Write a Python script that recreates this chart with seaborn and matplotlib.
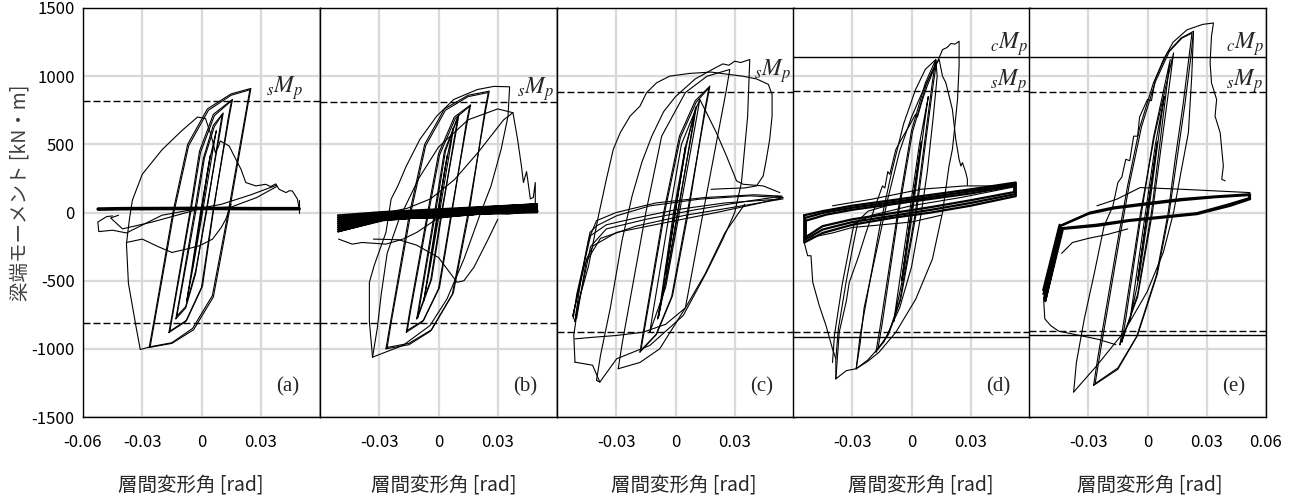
import matplotlib
matplotlib.use('Agg')
import matplotlib.pyplot as plt
import pandas as pd
import seaborn as sns

sns.set_theme(style='white')
plt.rcParams['font.family'] = ['Noto Sans CJK JP', 'DejaVu Sans']
plt.rcParams['mathtext.fontset'] = 'stix'

# ---------------- data (x in 1e-3 rad, y in kN*m) ----------------
PANEL_LABELS = ['(a)', '(b)', '(c)', '(d)', '(e)']
X_TICKS = [-0.06, -0.03, 0, 0.03, 0.06]
X_TICKLABELS = [['-0.06', '-0.03', '0', '0.03', ''],
                ['', '-0.03', '0', '0.03', ''],
                ['', '-0.03', '0', '0.03', ''],
                ['', '-0.03', '0', '0.03', ''],
                ['', '-0.03', '0', '0.03', '0.06']]
Y_TICKS = [-1500, -1000, -500, 0, 500, 1000, 1500]
Y_TICKLABELS = ['-1500', '-1000', '-500', '0', '500', '1000', '1500']
SMP_POS = [817, 810, 882, 890, 883]
SMP_NEG = [-812, -812, -880, -880, -871]
CMP_POS = [None, None, None, 1143, 1143]
CMP_NEG = [None, None, None, -910, -902]
X_LABEL = '層間変形角 [rad]'
Y_LABEL = '梁端モーメント [kN・m]'

A_THIN = [
    [(-4.5, -400), (4.5, 420), (3, 300), (-4.5, -400)],
    [(-7.5, -650), (-6.5, -560), (-0.5, 0), (4, 380), (7.5, 600), (6.5, 520), (0.5, 0), (-4, -380), (-7.5, -650)],
    [(-13, -780), (-11, -620), (-3.6, 0), (1, 400), (6, 640), (11, 730), (9.5, 600), (2.2, 0), (-3, -450), (-8, -700), (-13, -780)],
    [(-12.5, -760), (-10.5, -600), (-3, 0), (1.5, 400), (6.5, 630), (10.5, 720), (9, 590), (2.5, 0), (-3, -430), (-8, -690), (-12.5, -760)],
    [(-16.5, -880), (-14.5, -720), (-5.9, 0), (-1, 450), (6, 720), (15.7, 830), (14, 700), (5.7, 0), (0, -550), (-8, -800), (-16.5, -880)],
    [(-16, -870), (-14, -700), (-5.5, 0), (-0.5, 440), (6.5, 710), (15.2, 820), (13.5, 690), (5.9, 0), (0.5, -540), (-7.5, -790), (-16, -870)],
    [(-26.5, -990), (-24, -790), (-14.5, 0), (-7, 500), (3, 760), (15, 870), (25, 910), (23.5, 790), (14, 0), (6, -620), (-4, -860), (-15, -960), (-26.5, -990)],
    [(-26, -985), (-23.5, -780), (-14, 0), (-6.5, 490), (3.5, 750), (15, 860), (24.5, 900), (23, 780), (13.5, 0), (5.5, -610), (-4.5, -850), (-15, -955), (-26, -985)],
    [(-26, -985), (-31, -1005), (-33, -850), (-37, -520), (-38, -230), (-36.5, -50), (-35, 90), (-30, 280), (-20, 460), (-10, 600), (-2, 700), (2, 690), (5, 560), (7, 440), (8.5, 480), (9.5, 525), (14, 488), (17.4, 390), (20, 317), (22.4, 220), (27.5, 195), (32.5, 207), (35, 190), (37.6, 210), (39.3, 170), (42.8, 146), (44.5, 160), (46, 158), (48.6, 98), (49.4, 30)],
    [(-38, -220), (-30, -195), (-22, -250), (-15, -293), (-8, -270), (-1, -244), (5.6, -195), (10, -110), (12.3, -49), (15, 60)],
    [(38, 200), (25, 130), (10, 60), (-5, 20), (-20, -20), (-38, -150), (-45, -130), (-52, -140), (-52.5, -70), (-48, -30), (-45, -25)],
    [(38, 190), (28, 110), (15, 40), (0, 30), (-25, -70), (-40, -120), (-46, -40), (-42, -20)],
    [(49.5, 0), (49.5, 95)],
]
A_BOLD = [
    [(-52.3, 25), (-40, 28), (0, 30), (30, 28), (49.4, 28)],
]

B_THIN = [
    [(-4.5, -400), (4.5, 420), (3, 300), (-4.5, -400)],
    [(-7.5, -650), (-6.5, -560), (-0.5, 0), (4, 380), (7.5, 620), (6.5, 520), (0.5, 0), (-4, -380), (-7.5, -650)],
    [(-11, -780), (-9.5, -650), (-2, 0), (3, 450), (10.3, 720), (9, 600), (1.5, 0), (-4, -500), (-11, -780)],
    [(-10.5, -770), (-9, -640), (-1.5, 0), (3.5, 450), (10, 710), (8.5, 590), (1.8, 0), (-3.5, -490), (-10.5, -770)],
    [(-16.3, -878), (-14.5, -720), (-5.5, 0), (0, 430), (8, 700), (16.3, 790), (14.5, 660), (6.5, 0), (0, -560), (-8, -800), (-16.3, -878)],
    [(-15.8, -865), (-14, -710), (-5, 0), (0.5, 420), (8.5, 690), (15.8, 780), (14, 650), (6.8, 0), (0.5, -550), (-7.5, -790), (-15.8, -865)],
    [(-26.6, -1000), (-24.5, -820), (-14.6, 0), (-7, 500), (3, 760), (15, 860), (25.7, 890), (24, 760), (15, 0), (7, -600), (-4, -870), (-15, -970), (-26.6, -1000)],
    [(-26, -990), (-24, -810), (-14, 0), (-6.5, 490), (3.5, 750), (15, 850), (25.2, 880), (23.5, 750), (15.5, 0), (7.5, -590), (-3.5, -860), (-15, -960), (-26, -990)],
    [(-33.4, -1061), (-35, -800), (-35, -512), (-32.6, -390), (-26.6, -146), (-24, 98), (-20.6, 195), (-16.3, 341), (-9.4, 537), (-0.9, 707), (7.7, 829), (19.7, 902), (28, 925), (36, 922), (35.2, 707), (31.7, 463), (26.6, 195), (21.4, 0), (12.9, -341), (4.3, -634), (-4.3, -829), (-18, -975), (-33.4, -1061)],
    [(-33.4, -1061), (-31, -850), (-29, -600), (-26, -300), (-20, -50), (-10, 250), (0, 480), (15, 680), (30, 760), (37.7, 732), (40, 540), (42, 340), (43, 220), (44.6, 300), (46.5, 100), (48, 110), (49, 220), (49, 60)],
    [(37.7, 732), (33, 680), (20, 440), (8, 240), (-4, 100), (-16, 30), (-30, -10), (-45, -30)],
    [(-50.6, -195), (-43.7, -232), (-38.6, -220), (-26.6, -232), (-18, -195), (-11, -146), (-1, -49), (12.9, 0), (35, -12), (50.6, 10)],
    [(-33, -195), (-20, -200), (-11, -240), (0, -330), (9.4, -512), (12.9, -500), (18, -400), (25, -200), (30, -50)],
]
B_BOLD = [
    [(-51, -20), (-28, 5), (0, 25), (50, 62), (0, 18), (-28, -2), (-51, -35), (-28, -5), (0, 12), (50, 55),
     (0, 5), (-28, -12), (-51, -50), (-28, -15), (0, -2), (50, 48), (0, -9), (-28, -22), (-51, -65),
     (-28, -25), (0, -16), (50, 40), (0, -22), (-28, -32), (-51, -80), (-28, -35), (0, -30), (50, 32),
     (0, -37), (-28, -42), (-51, -95), (-28, -45), (0, -35), (50, 24), (0, -30), (-28, -50), (-51, -110),
     (-28, -48), (0, -25), (50, 16), (0, -28), (-28, -55), (-51, -125), (-28, -50), (0, -20), (50, 8),
     (0, -25), (-28, -58), (-51, -140), (-28, -52), (0, -15), (50, 0)],
]

C_THIN = [
    [(-5, -450), (5, 480), (3.5, 330), (-5, -450)],
    [(-9, -780), (-7.5, -650), (-1, 0), (5, 480), (10.6, 780), (9, 640), (1, 0), (-4, -420), (-9, -780)],
    [(-8.5, -760), (-7, -630), (-0.5, 0), (5.5, 490), (10.2, 770), (8.6, 630), (1.3, 0), (-3.6, -410), (-8.5, -760)],
    [(-13, -878), (-11.5, -740), (-3, 0), (3, 500), (12.3, 829), (10.5, 680), (2, 0), (-5, -550), (-13, -878)],
    [(-18, -1024), (-16, -850), (-6, 0), (2, 560), (10, 820), (17.4, 927), (15.5, 780), (6, 0), (-2, -620), (-10, -900), (-18, -1024)],
    [(-17.5, -1010), (-15.5, -840), (-5.5, 0), (2.5, 550), (10.5, 810), (17, 915), (15, 770), (6.5, 0), (-1.5, -610), (-9.5, -890), (-17.5, -1010)],
    [(-29, -1146), (-27, -960), (-15, 0), (-7, 560), (5, 880), (16, 1000), (27.5, 1049), (25.5, 880), (14, 0), (5, -700), (-8, -1000), (-18, -1100), (-29, -1146)],
    [(-40, -1232), (-38, -1050), (-33, -700), (-27, -200), (-22, 120), (-17, 370), (-12, 560), (-6, 740), (0, 850), (10, 980), (20, 1060), (24, 1090), (27, 1080), (30, 1110), (33, 1100), (37.6, 1122), (36.5, 700), (33.4, 220), (30, 0), (24, -195), (15.7, -439), (3.9, -756), (-13, -975), (-29.8, -1073), (-38.3, -1244), (-40, -1232)],
    [(-50.9, -1098), (-51.5, -900), (-49, -650), (-44, -390), (-39, -24), (-35, 244), (-31.5, 463), (-28, 585), (-23, 707), (-18, 780), (-14.7, 878), (-9.6, 951), (-3, 1000), (7, 1020), (18, 1030), (27.5, 1012), (34, 1000), (41, 980), (47, 940), (48.9, 866), (48.9, 707), (47.7, 537), (46, 390), (44.4, 268), (41, 195), (35, 180), (25, 175), (18, 170)],
    [(12.3, 829), (15.7, 732), (20.7, 585), (25.8, 415), (30.9, 232), (34.3, 207), (44.4, 195), (52.8, 146)],
    [(-51.8, -780), (-50, -600), (-46.7, -390), (-43.3, -146), (-40, -98), (-29.8, -24), (-12.9, 49), (12.3, 98), (37.6, 122), (54.5, 110), (40, 60), (20.7, 0), (-4.6, -73), (-29.8, -146), (-41.7, -244), (-45, -341), (-50.1, -780)],
    [(-51, -800), (-48, -500), (-44, -200), (-40, -60), (-30, 0), (-10, 70), (15, 110), (40, 130), (54, 120), (35, 80), (10, 20), (-15, -50), (-35, -120), (-43, -250), (-48, -600), (-51, -800)],
    [(-52, -760), (-47, -420), (-43, -170), (-35, -90), (-20, -40), (0, 20), (25, 70), (54.5, 100), (30, 40), (5, -20), (-20, -100), (-38, -190), (-46, -380), (-52, -760)],
    [(-51, -927), (-41.6, -915), (-29.8, -902), (-16.4, -878), (-5, -820), (5, -700), (15, -450), (25, -150), (35, 60)],
    [(-50.9, -1098), (-46, -1110), (-42, -1120), (-38.3, -1244)],
]
C_BOLD = []

D_THIN = [
    [(-5, -500), (5, 520), (3.5, 380), (-5, -500)],
    [(-9, -800), (-7.5, -650), (-1, 0), (4, 500), (8.5, 850), (7, 700), (0.5, 0), (-4, -450), (-9, -800)],
    [(-18, -1024), (-16, -850), (-7, 0), (0, 600), (7, 950), (12.3, 1122), (10.5, 950), (2, 0), (-6, -650), (-12, -900), (-18, -1024)],
    [(-17, -1000), (-15, -830), (-6.5, 0), (0.5, 590), (7.5, 940), (12.8, 1110), (11, 940), (2.5, 0), (-5.5, -640), (-11.5, -890), (-17, -1000)],
    [(-28, -1146), (-26, -900), (-21, -500), (-16, -100), (-10, 300), (-4, 650), (2, 900), (7, 1050), (12.3, 1122), (13, 1000), (11, 700), (8, 300), (5, 0), (0, -400), (-6, -700), (-14, -950), (-22, -1080), (-28, -1146)],
    [(-28, -1146), (-26, -960), (-24, -700), (-18, -300), (-12, 100), (-6, 450), (0, 700), (6, 900), (12, 1080), (14, 1122), (15.7, 1000), (17.4, 951), (20.7, 756), (22.4, 537), (24.1, 390), (25, 341), (25.8, 366), (27.5, 293), (28.3, 244), (28.3, 200)],
    [(-38.3, -1220), (-36.6, -878), (-33, -650), (-31.5, -512), (-27, -330), (-23, -146), (-19, 20), (-14.7, 195), (-13.5, 180), (-12, 300), (-11, 280), (-9, 400), (-7.9, 463), (-5, 540), (-1.2, 634), (2, 720), (3, 700), (5.6, 829), (8, 930), (10.6, 1024), (13, 1100), (15.7, 1195), (18, 1210), (20, 1240), (22, 1235), (24.1, 1256), (24.1, 1073), (23.3, 829), (21.6, 585), (20.7, 463), (19, 341), (15.7, 0), (10.6, -341), (2.2, -634), (-7.9, -878), (-16.4, -1024), (-22, -1090), (-28, -1146), (-33, -1160), (-38.3, -1220)],
    [(-54.3, -220), (-52.6, -317), (-50.9, -317), (-50, -512), (-46.7, -683), (-43.3, -829), (-40, -1000), (-38.3, -1073), (-38.3, -1220)],
    [(-38.3, -1073), (-37, -850), (-33, -500), (-29, -200), (-27, -60), (-22, 10), (-10, 60), (10, 110), (30, 160), (52.8, 215)],
    [(-40, -1100), (-39, -900), (-35, -520), (-31, -220), (-29, -80), (-20, -20), (0, 50), (25, 110), (52.8, 190)],
    [(-40, 49), (-20, 98), (5, 171), (27, 195), (41, 195), (52.8, 200)],
    [(-54, -220), (-50, -180), (-40, -150), (-30, -110), (-15, -90), (0, -70), (15, -20)],
]
D_BOLD = [
    [(-54.3, -20), (-45, 10), (-30, 50), (-10, 90), (10, 130), (30, 170), (52.8, 220), (52.8, 120), (30, 50), (10, 0), (-10, -40), (-30, -90), (-45, -150), (-54.3, -220), (-54.3, -20)],
    [(-54, -40), (-44, 0), (-30, 35), (-10, 75), (10, 115), (30, 155), (52.5, 205), (52.5, 135), (30, 70), (10, 20), (-10, -25), (-30, -70), (-45, -125), (-54, -200), (-54, -40)],
    [(-53.5, -60), (-43, -15), (-30, 20), (-10, 60), (10, 100), (30, 140), (52, 195), (52, 150), (30, 90), (10, 40), (-10, -5), (-30, -50), (-45, -100), (-53.5, -180), (-53.5, -60)],
]

E_THIN = [
    [(-5, -500), (5, 520), (3.5, 380), (-5, -500)],
    [(-9, -800), (-7.5, -650), (-1, 0), (4, 500), (8.5, 850), (7, 700), (0.5, 0), (-4, -450), (-9, -800)],
    [(-13, -950), (-11, -780), (-3, 0), (3, 550), (11.5, 1122), (10, 950), (2, 0), (-5, -600), (-13, -950)],
    [(-14, -970), (-12, -800), (-3.5, 0), (3.5, 560), (13.2, 1171), (11.5, 980), (2.5, 0), (-5, -620), (-14, -970)],
    [(-27.3, -1268), (-25, -1050), (-15, -200), (-10, 200), (-4, 620), (3, 950), (10, 1170), (17, 1280), (23.3, 1329), (22, 1150), (19, 800), (15, 400), (11, 0), (5, -450), (-5, -900), (-15, -1150), (-27.3, -1268)],
    [(-26.5, -1255), (-24, -1030), (-14, -180), (-9, 220), (-3, 630), (4, 960), (11, 1180), (17.5, 1280), (22.5, 1315), (21, 1140), (18, 790), (14, 390), (10.5, 0), (4.5, -460), (-5.5, -910), (-15, -1140), (-26.5, -1255)],
    [(-37.4, -1317), (-36, -1100), (-32, -780), (-27, -450), (-22, -100), (-17.5, 49), (-15, 220), (-13, 260), (-11, 390), (-9, 380), (-7, 560), (-5, 560), (-4, 700), (0, 830), (2, 820), (4, 980), (8, 1120), (13, 1250), (20, 1340), (28, 1380), (33.4, 1390), (32.4, 1293), (31.7, 1098), (32.4, 951), (35, 829), (34.2, 707), (36.8, 585), (37.6, 463), (38.4, 341), (37.6, 244), (39.3, 232)],
    [(23.3, 1329), (22.4, 1000), (20.7, 585), (17, 300), (13.2, 0), (8, -293), (-0.3, -585), (-12, -878), (-25.6, -1122), (-37.4, -1317)],
    [(-52.6, -634), (-52, -780), (-49, -830), (-45, -870), (-35, -900), (-25, -930), (-16, -970)],
    [(51.9, 146), (35, 158), (16.5, 171), (-3.7, 183), (-8.8, 146), (-15.5, 98), (-25.6, 49)],
    [(-43.5, -300), (-38, -220), (-30, -190), (-20, -160), (-10, -120)],
]
E_BOLD = [
    [(-44.2, -98), (-52.6, -600), (-44, -110), (-52.2, -630), (-43.5, -120), (-51.8, -650), (-43, -130), (-52.8, -570), (-44.5, -90)],
    [(-44.2, -98), (-29, 0), (-17.2, 37), (-0.3, 68), (16.5, 98), (33.4, 117), (51.9, 134), (51.9, 98), (41.8, 49), (25, -12), (8, -37), (-8.8, -61), (-25.6, -98), (-44.2, -122)],
    [(-43.5, -95), (-30, -10), (-17, 30), (0, 60), (17, 90), (34, 112), (51.5, 128), (51.5, 105), (40, 55), (25, -5), (8, -30), (-9, -55), (-26, -90), (-43.5, -115)],
]

PANELS = [(A_THIN, A_BOLD), (B_THIN, B_BOLD), (C_THIN, C_BOLD), (D_THIN, D_BOLD), (E_THIN, E_BOLD)]
BOLD_LW = [2.6, 1.3, 1.6, 1.6, 1.6]

rows = []
for p, (thin, bold) in enumerate(PANELS):
    for kind, curves in (('thin', thin), ('bold', bold)):
        for ci, curve in enumerate(curves):
            for k, (xm, yv) in enumerate(curve):
                rows.append({'panel': p, 'kind': kind, 'curve': f'{p}-{kind}-{ci}',
                             'order': k, 'x': xm / 1000.0, 'y': yv})
df = pd.DataFrame(rows)

# ---------------- figure ----------------
W, H = 1291, 499
fig = plt.figure(figsize=(W / 100, H / 100), dpi=100)
lefts = [83, 320, 557, 793, 1029]
pw = 237
top_px, bot_px = 8, 417
smp_xfrac = [0.852, 0.909, 0.909, 0.91, 0.91]
smp_txt_y = [913, 902, 1037, 961, 961]
cmp_txt_y = [None, None, None, 1233, 1236]
xlabel_cx = [191, 444, 684, 921, 1150]

for p in range(5):
    ax = fig.add_axes([lefts[p] / W, 1 - bot_px / H, pw / W, (bot_px - top_px) / H])
    ax.set_xlim(-0.06, 0.06)
    ax.set_ylim(-1500, 1500)
    ax.set_xticks(X_TICKS)
    ax.set_xticklabels(X_TICKLABELS[p])
    ax.set_yticks(Y_TICKS)
    ax.set_yticklabels(Y_TICKLABELS if p == 0 else [''] * len(Y_TICKS))
    ax.grid(True, color='#d9d9d9', linewidth=1.6)
    ax.set_axisbelow(True)
    ax.tick_params(length=0, labelsize=12, colors='black')
    ax.tick_params(axis='x', pad=12)
    ax.tick_params(axis='y', pad=6)
    for s in ax.spines.values():
        s.set_visible(True)
        s.set_color('black')
        s.set_linewidth(1.0)

    sub = df[df.panel == p]
    thin = sub[sub.kind == 'thin']
    bold = sub[sub.kind == 'bold']
    sns.lineplot(data=thin, x='x', y='y', units='curve', estimator=None, sort=False,
                 color='black', linewidth=0.8, ax=ax, legend=False)
    if len(bold):
        sns.lineplot(data=bold, x='x', y='y', units='curve', estimator=None, sort=False,
                     color='black', linewidth=BOLD_LW[p], ax=ax, legend=False)
    ax.set_xlabel('')
    ax.set_ylabel('')

    dash = (0, (5, 2.2))
    ax.axhline(SMP_POS[p], color='black', lw=1.0, ls=dash)
    ax.axhline(SMP_NEG[p], color='black', lw=1.0, ls=dash)
    if CMP_POS[p] is not None:
        ax.axhline(CMP_POS[p], color='black', lw=1.0)
        ax.axhline(CMP_NEG[p], color='black', lw=1.0)
        ax.text(-0.06 + smp_xfrac[p] * 0.12, cmp_txt_y[p], r'${}_{c}M_{p}$',
                ha='center', va='center', fontsize=17)
    ax.text(-0.06 + smp_xfrac[p] * 0.12, smp_txt_y[p], r'${}_{s}M_{p}$',
            ha='center', va='center', fontsize=17)
    ax.text(0.865, 0.073, PANEL_LABELS[p], transform=ax.transAxes, ha='center', va='center',
            fontsize=15, family=['Liberation Serif', 'DejaVu Serif'])
    fig.text(xlabel_cx[p] / W, 1 - 485 / H, X_LABEL, ha='center', va='center',
             fontsize=14, color='#262626')

fig.text(20 / W, 1 - 193 / H, Y_LABEL, rotation=90, ha='center', va='center',
         fontsize=14, color='#404040')

fig.savefig('out.png', dpi=100)
